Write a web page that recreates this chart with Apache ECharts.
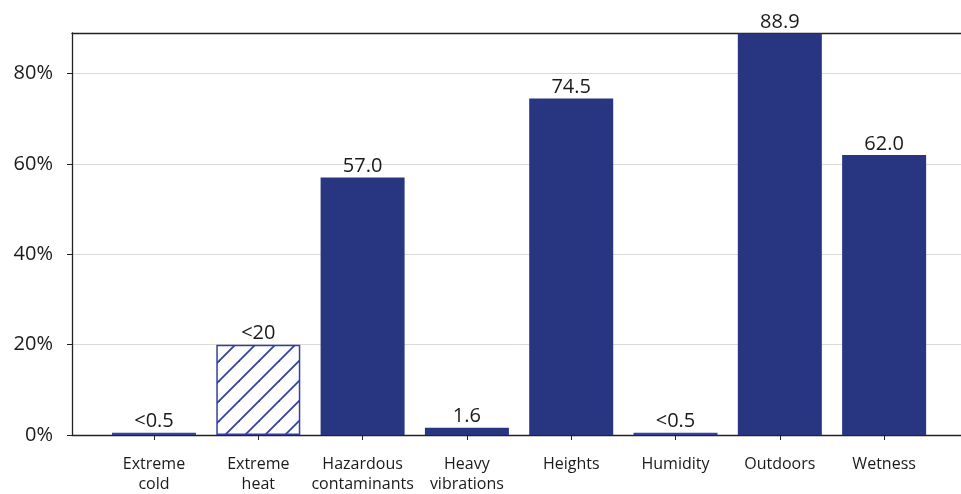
<!DOCTYPE html>
<html><head><meta charset="utf-8">
<script src="https://cdn.jsdelivr.net/npm/echarts@6/dist/echarts.min.js"></script>
<style>html,body{margin:0;padding:0;background:#fff}#c{width:961px;height:494px}</style>
</head><body><div id="c"></div>
<script>
const categories = ["Extreme\ncold","Extreme\nheat","Hazardous\ncontaminants","Heavy\nvibrations","Heights","Humidity","Outdoors","Wetness"];
const values = [0.5, 20, 57.0, 1.6, 74.5, 0.5, 88.9, 62.0];
const valueLabels = ["<0.5","<20","57.0","1.6","74.5","<0.5","88.9","62.0"];
const hatched = [true, true, false, false, false, true, false, false];
const yTicks = [0, 20, 40, 60, 80];

const NAVY = '#283580';
function hatchCanvas(){
  const s = 20, c = document.createElement('canvas');
  c.width = s; c.height = s;
  const g = c.getContext('2d');
  g.fillStyle = '#fff'; g.fillRect(0,0,s,s);
  g.strokeStyle = '#3340a0'; g.lineWidth = 1.8;
  for (const off of [-s, 0, s]) {
    g.beginPath(); g.moveTo(off-1, s+1); g.lineTo(off+s+1, -1); g.stroke();
  }
  return c;
}
const pattern = {image: hatchCanvas(), repeat: 'repeat'};

const data = values.map((v,i)=>{
  const d = {value:[i, v]};
  if (hatched[i]) d.itemStyle = {color: pattern, borderColor: '#3340a0', borderWidth: 1.5};
  return d;
});

const chart = echarts.init(document.getElementById('c'));
chart.setOption({
  animation: false,
  textStyle: {fontFamily: 'Open Sans'},
  grid: {left: 72, right: 0, top: 33, bottom: 56, show: false, containLabel: false},
  xAxis: [{
    type: 'value', min: -0.786, max: 7.737,
    splitLine: {show: false},
    axisLine: {show: true, onZero: false, lineStyle: {color: '#222', width: 1.3}},
    axisTick: {show: true, length: 5, customValues: categories.map((_,i)=>i), lineStyle: {color: '#222'}},
    axisLabel: {customValues: categories.map((_,i)=>i), formatter: v => categories[Math.round(v)] || '',
      fontSize: 16, color: '#1a1a1a', margin: 19, lineHeight: 20, fontFamily: 'Open Sans'}
  }, {
    type: 'value', position: 'top', min: -0.786, max: 7.737,
    splitLine: {show: false}, axisTick: {show: false}, axisLabel: {show: false},
    axisLine: {show: true, onZero: false, lineStyle: {color: '#222', width: 1.3}}
  }],
  yAxis: {
    type: 'value', min: 0, max: 89,
    axisLine: {show: true, onZero: false, lineStyle: {color: '#222', width: 1.3}},
    axisTick: {show: true, length: 5, customValues: yTicks, lineStyle: {color: '#222'}},
    axisLabel: {customValues: yTicks, formatter: '{value}%', fontSize: 20, color: '#1a1a1a', margin: 19, fontFamily: 'Open Sans'},
    splitLine: {show: true, lineStyle: {color: '#d9d9d9', width: 1}}
  },
  series: [{
    type: 'bar',
    xAxisIndex: 0,
    barWidth: 84,
    itemStyle: {color: NAVY},
    data: data,
    label: {show: true, position: 'top', distance: 1, fontSize: 20, color: '#1a1a1a', fontFamily: 'Open Sans',
      formatter: p => valueLabels[p.dataIndex]}
  }]
});
</script></body></html>
